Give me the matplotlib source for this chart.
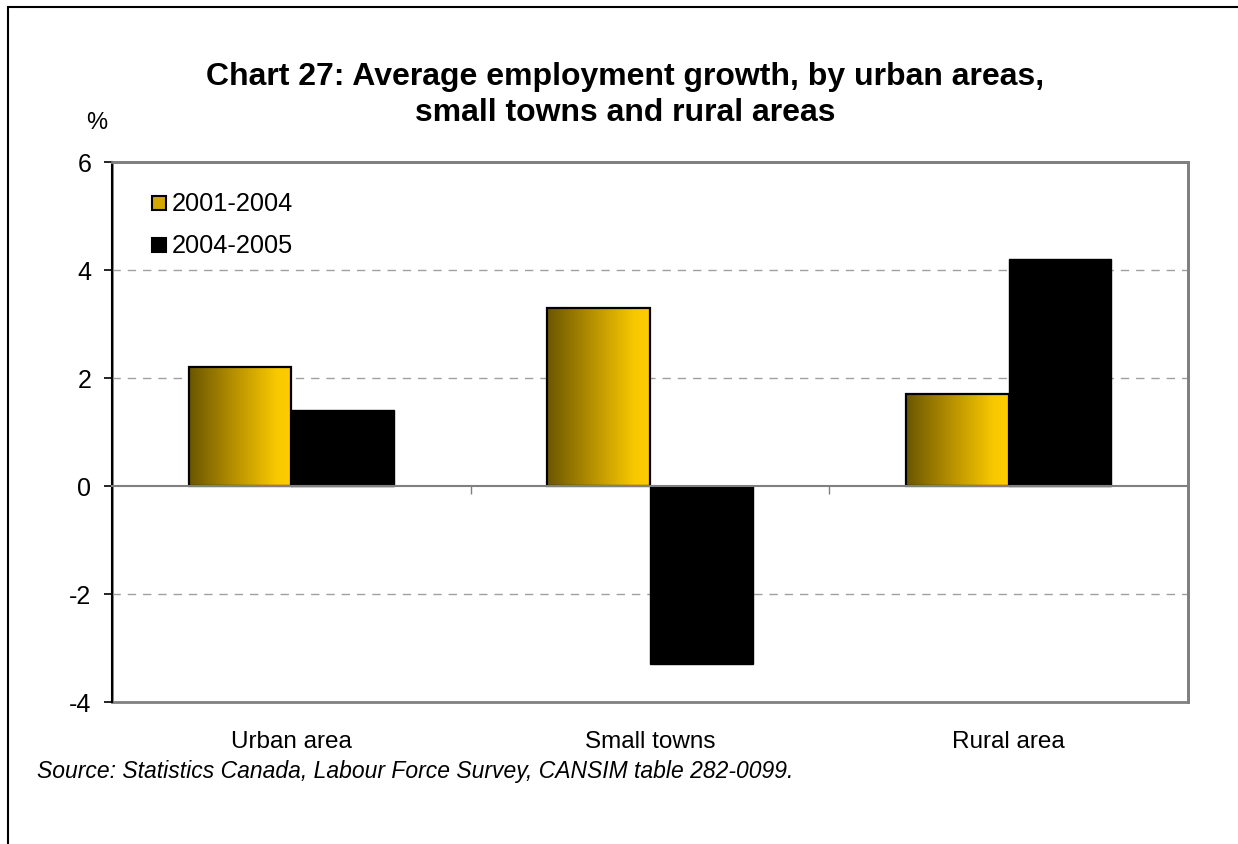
import numpy as np
import matplotlib.pyplot as plt
from matplotlib.patches import Rectangle
from matplotlib.colors import LinearSegmentedColormap

plt.rcParams['font.family'] = ['Liberation Sans', 'DejaVu Sans']

categories = ["Urban area", "Small towns", "Rural area"]
series_names = ["2001-2004", "2004-2005"]
growth_2001_2004 = [2.2, 3.3, 1.7]
growth_2004_2005 = [1.4, -3.3, 4.2]
y_ticks = [-4, -2, 0, 2, 4, 6]

title = "Chart 27: Average employment growth, by urban areas,\nsmall towns and rural areas"
source = "Source: Statistics Canada, Labour Force Survey, CANSIM table 282-0099."

gold = LinearSegmentedColormap.from_list(
    "gold", [(0.0, "#6b5600"), (0.45, "#b89200"), (0.85, "#f8c800"), (1.0, "#ffcc00")])
grad = np.linspace(0, 1, 256).reshape(1, -1)

fig = plt.figure(figsize=(12.38, 8.45), dpi=100)
ax = fig.add_axes([112 / 1238, 1 - 703 / 845, 1076 / 1238, 540 / 845])

x = np.arange(len(categories))
w = 0.286

bars1 = ax.bar(x - w / 2, growth_2001_2004, w, color="none", edgecolor="black",
               linewidth=1.6, zorder=3, label=series_names[0])
bars2 = ax.bar(x + w / 2, growth_2004_2005, w, color="black", edgecolor="black",
               linewidth=1.0, zorder=3, label=series_names[1])

# horizontal gradient inside each gold bar
for b in bars1:
    x0, y0 = b.get_x(), b.get_y()
    im = ax.imshow(grad, cmap=gold, aspect="auto", zorder=2.5,
                   extent=[x0, x0 + b.get_width(), y0, y0 + b.get_height()])
    im.set_clip_path(b)

ax.set_xlim(-0.5, len(categories) - 0.5)
ax.set_ylim(y_ticks[0], y_ticks[-1])
ax.set_yticks(y_ticks)
ax.set_yticklabels([str(v) for v in y_ticks], fontsize=18)
ax.tick_params(axis="y", direction="out", length=6, width=1.2, color="black", pad=9)

for v in y_ticks:
    if v not in (0, y_ticks[0], y_ticks[-1]):
        ax.axhline(v, color="#a0a0a0", lw=1, ls=(0, (6, 5)), zorder=1)

# zero line with category separators
ax.spines["bottom"].set_position(("data", 0))
ax.spines["bottom"].set_color("#808080")
ax.spines["bottom"].set_linewidth(1.5)
ax.spines["bottom"].set_zorder(4)
ax.set_xticks(list(x[:-1] + 0.5) + [x[-1] + 0.5])
ax.set_xticklabels([])
ax.tick_params(axis="x", direction="out", length=6, width=1, color="#808080")

ax.spines["left"].set_color("black")
ax.spines["left"].set_linewidth(1.5)
for s in ("top", "right"):
    ax.spines[s].set_color("#808080")
    ax.spines[s].set_linewidth(2)
ax.add_patch(Rectangle((0, 0), 1, 1, transform=ax.transAxes, fill=False,
                       edgecolor="#808080", lw=2, zorder=0, clip_on=False))

for i, name in enumerate(categories):
    ax.text(i, -4.72, name, ha="center", va="center", fontsize=17.5)

# legend
fig.patches.append(Rectangle((152 / 1238, 1 - 211 / 845), 14 / 1238, 14 / 845,
                             transform=fig.transFigure, facecolor="#d4a800",
                             edgecolor="black", lw=1.5))
fig.patches.append(Rectangle((152 / 1238, 1 - 253 / 845), 14 / 1238, 14 / 845,
                             transform=fig.transFigure, facecolor="black",
                             edgecolor="black", lw=1.5))
fig.text(172 / 1238, 1 - 204 / 845, series_names[0], fontsize=18.3, va="center")
fig.text(172 / 1238, 1 - 246 / 845, series_names[1], fontsize=18.3, va="center")

fig.text(625 / 1238, 1 - 95 / 845, title, ha="center", va="center",
         fontsize=23, fontweight="bold", linespacing=1.3)
fig.text(97 / 1238, 1 - 123 / 845, "%", ha="center", va="center", fontsize=17)
fig.text(37 / 1238, 1 - 772 / 845, source, ha="left", va="center",
         fontsize=16.5, style="italic")

# outer frame
fig.patches.append(Rectangle((8 / 1238, -0.1), 1.2, (1 - 8 / 845) + 0.1,
                             transform=fig.transFigure, fill=False,
                             edgecolor="black", lw=1.5))

fig.savefig("out.png", dpi=100)
